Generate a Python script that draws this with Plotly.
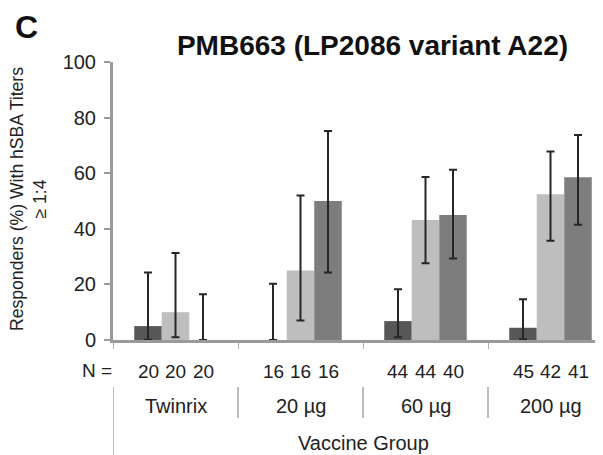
import plotly.graph_objects as go

categories = ["Twinrix", "20 µg", "60 µg", "200 µg"]
series_names = ["Series 1", "Series 2", "Series 3"]
values = [
    [5.0, 0.0, 6.8, 4.4],
    [10.0, 25.0, 43.2, 52.4],
    [0.0, 50.0, 45.0, 58.5],
]
ci_lower = [
    [0.1, 0.0, 1.0, 0.3],
    [1.0, 7.0, 27.6, 35.7],
    [0.0, 24.3, 29.3, 41.5],
]
ci_upper = [
    [24.3, 20.2, 18.3, 14.7],
    [31.3, 52.0, 58.6, 67.8],
    [16.5, 75.2, 61.2, 73.7],
]
n_counts = [
    [20, 16, 44, 45],
    [20, 16, 44, 42],
    [20, 16, 40, 41],
]
y_ticks = [0, 20, 40, 60, 80, 100]

colors = ["#575757", "#bebebe", "#7d7d7d"]
FONT = "Arial, Liberation Sans, sans-serif"
TXT = "#222222"

# page body has an 8px default margin; work in reference (window) pixels
OFF = 8
W, H = 603 - OFF, 455 - OFF
REF_L, REF_T, REF_B = 113, 62, 340   # plot area in window pixels
ML = REF_L - OFF
MT = REF_T - OFF
MR = 0
PH = REF_B - REF_T
MB = H - MT - PH
PW = W - ML - MR

def px_x(px):
    return (px - REF_L) / PW

def px_y(py):
    return (REF_B - py) / PH

fig = go.Figure()
for i in range(3):
    fig.add_trace(go.Bar(
        x=categories, y=values[i], name=series_names[i],
        marker=dict(color=colors[i], line=dict(width=0)),
        error_y=dict(type="data", symmetric=False,
                     array=[u - v for u, v in zip(ci_upper[i], values[i])],
                     arrayminus=[v - l for v, l in zip(values[i], ci_lower[i])],
                     color="#262626", thickness=2, width=4),
        showlegend=False,
    ))

bargap = 0.34
group_w = 1 - bargap
bar_w = group_w / 3

annotations = []
annotations.append(dict(x=px_x(114), y=px_y(370), xref="paper", yref="paper",
                        text="N =", showarrow=False, xanchor="right", yanchor="middle",
                        font=dict(family=FONT, size=19, color=TXT)))
for i in range(3):
    for c in range(len(categories)):
        annotations.append(dict(x=c + (i - 1) * bar_w, y=px_y(371), xref="x", yref="paper",
                                text=str(n_counts[i][c]), showarrow=False,
                                xanchor="center", yanchor="middle",
                                font=dict(family=FONT, size=19, color=TXT)))
for c, name in enumerate(categories):
    annotations.append(dict(x=c, y=px_y(406), xref="x", yref="paper", text=name,
                            showarrow=False, xanchor="center", yanchor="middle",
                            font=dict(family=FONT, size=20, color=TXT)))
annotations.append(dict(x=1.5, y=px_y(443), xref="x", yref="paper", text="Vaccine Group",
                        showarrow=False, xanchor="center", yanchor="middle",
                        font=dict(family=FONT, size=20, color=TXT)))
annotations.append(dict(x=px_x(28), y=px_y(199), xref="paper", yref="paper",
                        text="Responders (%) With hSBA Titers<br>≥ 1:4", textangle=-90,
                        showarrow=False, xanchor="center", yanchor="middle",
                        font=dict(family=FONT, size=17.6, color=TXT)))
annotations.append(dict(x=px_x(26), y=px_y(27), xref="paper", yref="paper",
                        text="<b>C</b>", showarrow=False, xanchor="center", yanchor="middle",
                        font=dict(family=FONT, size=32, color="#111111")))

shapes = []
for b in [-0.5, 0.5, 1.5, 2.5]:
    y1 = 460 if b == -0.5 else 418
    shapes.append(dict(type="line", xref="x", yref="paper", x0=b, x1=b,
                       y0=px_y(387), y1=px_y(y1),
                       line=dict(color="#bdbdbd", width=2)))

fig.update_layout(
    width=W, height=H,
    margin=dict(l=ML, r=MR, t=MT, b=MB),
    paper_bgcolor="white", plot_bgcolor="white",
    barmode="group", bargap=bargap, bargroupgap=0,
    title=dict(text="<b>PMB663 (LP2086 variant A22)</b>",
               x=(372.5 - OFF) / W, y=1 - (45 - OFF) / H,
               xanchor="center", yanchor="middle", xref="container", yref="container",
               font=dict(family=FONT, size=28, color="#111111")),
    xaxis=dict(range=[-0.5, 3.42], showticklabels=False, tickson="boundaries",
               ticks="outside", ticklen=6, tickcolor="#b0b0b0", tickwidth=1,
               showline=True, linecolor="#9a9a9a", linewidth=3, showgrid=False,
               zeroline=False, fixedrange=True),
    yaxis=dict(range=[0, 100], tickvals=y_ticks, ticks="outside", ticklen=6,
               tickcolor="#9a9a9a", tickwidth=2, showline=True, linecolor="#9a9a9a",
               linewidth=3, showgrid=False, zeroline=False,
               tickfont=dict(family=FONT, size=20, color=TXT), ticklabelstandoff=4),
    annotations=annotations, shapes=shapes,
)

fig.write_html("out.html")
